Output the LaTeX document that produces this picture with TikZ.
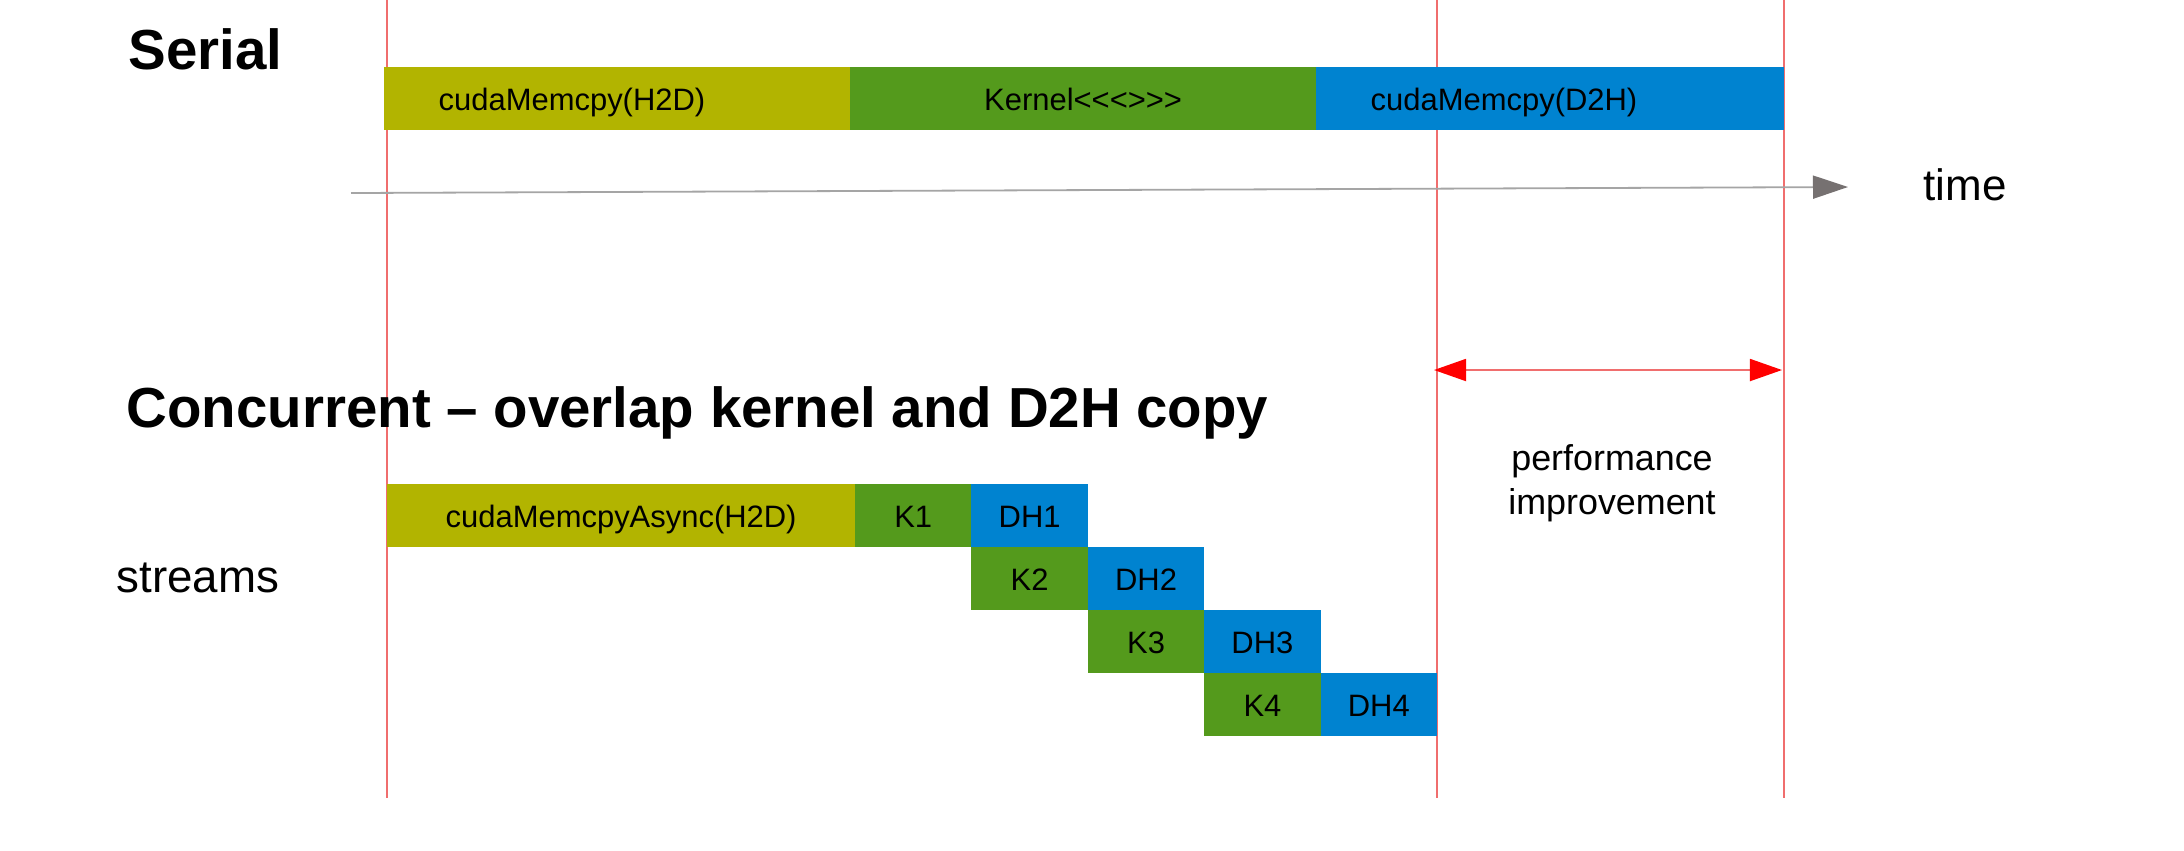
\documentclass[tikz,border=0pt]{standalone}
\usepackage{fontspec}
\setmainfont{Liberation Sans}
\usetikzlibrary{arrows.meta}
\definecolor{olivebar}{RGB}{178,180,0}
\definecolor{greenbar}{RGB}{84,154,28}
\definecolor{bluebar}{RGB}{0,131,208}
\definecolor{guide}{RGB}{240,110,110}
\definecolor{axisgray}{RGB}{165,165,165}
\definecolor{headgray}{RGB}{118,113,113}
\begin{document}
\begin{tikzpicture}[x=0.01cm,y=-0.01cm,
  blk/.style={anchor=north west, inner sep=0pt, outer sep=0pt, minimum height=0.63cm,
    font=\fontsize{8.8}{10}\selectfont, text=black, text height=6.9pt, text depth=0pt},
  kblk/.style={blk, fill=greenbar, minimum width=1.164cm},
  dblk/.style={blk, fill=bluebar, minimum width=1.164cm},
  title/.style={inner sep=0pt, anchor=base west, font=\fontsize{16.05}{18}\selectfont\bfseries},
  lbl/.style={inner sep=0pt, font=\fontsize{8.8}{10}\selectfont, text height=6.9pt, text depth=0pt},
  guideline/.style={guide, line width=0.012cm}]
\useasboundingbox (0,0) rectangle (2184,850);
\fill[white] (0,0) rectangle (2184,850);

% guide lines
\coordinate (g1t) at (387,0);   \coordinate (g1b) at (387,798);
\coordinate (g2t) at (1437,0);  \coordinate (g2b) at (1437,798);
\coordinate (g3t) at (1784,0);  \coordinate (g3b) at (1784,798);
\draw[guideline] (g1t) -- (g1b);
\draw[guideline] (g2t) -- (g2b);
\draw[guideline] (g3t) -- (g3b);

% Serial
\node[title] (serial) at (128,69) {Serial};
\node[blk, fill=olivebar, minimum width=4.66cm] (sh2d) at (384,67) {};
\node[blk, fill=greenbar, minimum width=4.66cm] (skern) at (850,67) {Kernel<{}<{}<{}>{}>{}>};
\node[blk, fill=bluebar, minimum width=4.68cm] (sd2h) at (1316,67) {};
\node[lbl, anchor=west] (sh2dt) at ([xshift=0.54cm]sh2d.west) {cudaMemcpy(H2D)};
\node[lbl, anchor=west] (sd2ht) at ([xshift=0.54cm]sd2h.west) {cudaMemcpy(D2H)};

% time axis
\coordinate (t0) at (351,193);
\coordinate (t1) at (1848,187);
\draw[axisgray, line width=0.018cm, -{Triangle[length=0.35cm,width=0.23cm,color=headgray]}] (t0) -- (t1);
\node[inner sep=0pt, anchor=base west, font=\fontsize{12.5}{14}\selectfont] (time) at (1923,200) {time};

% Concurrent
\node[title] (conc) at (126,427) {Concurrent -- overlap kernel and D2H copy};
\node[inner sep=0pt, anchor=base west, font=\fontsize{13}{15}\selectfont] (streams) at (116,592) {streams};

\node[blk, fill=olivebar, minimum width=4.68cm] (ah2d) at (387,484) {cudaMemcpyAsync(H2D)};
\node[kblk] (k1) at (855,484) {K1};
\node[dblk] (dh1) at (971.4,484) {DH1};
\node[kblk] (k2) at (971.4,547) {K2};
\node[dblk] (dh2) at (1087.8,547) {DH2};
\node[kblk] (k3) at (1087.8,610) {K3};
\node[dblk] (dh3) at (1204.2,610) {DH3};
\node[kblk] (k4) at (1204.2,673) {K4};
\node[dblk] (dh4) at (1320.6,673) {DH4};

% performance improvement
\coordinate (pa) at (1434,370);
\coordinate (pb) at (1782,370);
\draw[guide, line width=0.018cm, {Triangle[length=0.32cm,width=0.22cm,color=red]}-{Triangle[length=0.32cm,width=0.22cm,color=red]}] (pa) -- (pb);
\node[inner sep=0pt, anchor=base, align=center, font=\fontsize{10.2}{12.5}\selectfont] (perf) at (1612,514) {performance\\improvement};
\end{tikzpicture}
\end{document}
